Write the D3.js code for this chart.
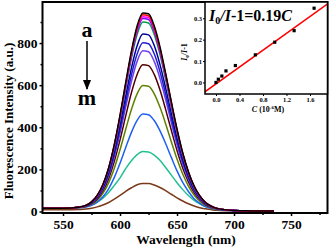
<!DOCTYPE html>
<html>
<head>
<meta charset="utf-8">
<script src="https://cdn.jsdelivr.net/npm/d3@7"></script>
<style>
body { margin: 0; background: #fff; }
svg { display: block; font-family: "Liberation Serif", "Times New Roman", serif; font-weight: bold; }
</style>
</head>
<body>
<svg width="331" height="248"></svg>
<script>
// spectra
var wavelength = [532,550,565,570,575,580,585,590,595,600,605,610,615,620,625,630,635,640,645,650,655,660,665,670,675,680,685,700,715,735];
var curveA = [15,15,22,29,46,77,128,207,319,458,613,762,881,943,939,882,783,657,522,392,279,189,121,74,43,26,15,5,3,2];
var curveB = [15,15,21,29,46,76,127,206,316,453,607,755,872,934,930,873,775,651,517,388,276,187,120,74,43,25,15,5,3,2];
var curveC = [15,15,21,29,45,75,126,204,313,449,601,748,864,925,921,865,768,645,512,384,274,186,119,73,43,25,15,5,3,2];
var curveD = [15,15,21,29,45,75,125,202,310,445,595,741,856,917,912,857,760,639,507,381,271,184,118,72,42,25,15,5,3,2];
var curveE = [15,15,21,28,44,74,123,198,304,437,585,727,840,900,895,841,746,627,498,374,266,181,115,71,41,25,15,5,3,2];
var curveF = [15,15,21,27,42,70,116,187,286,410,548,681,787,843,839,788,699,587,466,350,249,169,108,67,39,23,14,5,3,2];
var curveG = [15,15,21,27,41,67,111,178,272,390,521,648,748,801,797,749,665,558,443,333,237,161,103,64,37,22,14,5,3,2];
var curveH = [15,15,20,26,40,65,106,170,260,372,497,617,713,763,759,713,633,532,422,317,226,154,99,61,36,22,13,5,3,2];
var curveI = [15,15,20,25,38,60,98,156,238,340,454,564,651,697,693,651,578,485,386,290,207,141,90,56,33,20,13,5,3,2];
var curveJ = [15,15,19,24,34,54,86,136,206,293,391,485,559,598,595,559,496,417,331,249,178,121,78,49,29,18,11,5,3,2];
var curveK = [15,15,18,22,30,45,70,108,162,229,304,376,433,463,460,432,384,323,257,193,138,95,61,39,23,15,10,4,3,2];
var curveL = [15,15,20,24,32,45,64,90,124,160,204,241,270,285,283,268,243,209,173,137,104,76,53,37,24,16,12,5,3,2];
var curveM = [8,8,10,12,16,22,31,43,59,77,96,113,127,133,133,126,114,99,82,65,50,37,26,18,13,9,6,3,2,2];
var curves = [curveA,curveB,curveC,curveD,curveE,curveF,curveG,curveH,curveI,curveJ,curveK,curveL,curveM];
var colors = ["#000000","#ff0000","#ff00ff","#7b00ff","#00a050","#000099","#2020d0","#7040f0","#500000","#608000","#2060f0","#20c090","#7a3a1a"];

var xTicks = [550,600,650,700,750];
var yTicks = [0,200,400,600,800];

// inset: Stern-Volmer plot
var concC = [0,0.04,0.1,0.17,0.33,0.67,1.0,1.33,1.67];
var ratio = [0,0.015,0.03,0.054,0.079,0.129,0.188,0.242,0.347];
var fitC = [-0.2,1.9];
var fitR = [-0.046,0.367];
var insetXTicks = [0,0.4,0.8,1.2,1.6];
var insetYTicks = [0,0.1,0.2,0.3];

var svg = d3.select("svg");

var x = d3.scaleLinear().domain([532,782]).range([42.5,327.5]);
var y = d3.scaleLinear().domain([-7,995]).range([213,2]);

var plot = svg.append("g");
plot.append("clipPath").attr("id","clipMain")
    .append("rect").attr("x",42.5).attr("y",2).attr("width",285).attr("height",211);

var line = d3.line()
    .x(function(d,i){ return x(wavelength[i]); })
    .y(function(d){ return y(d); })
    .curve(d3.curveMonotoneX);

plot.append("g").attr("clip-path","url(#clipMain)")
    .selectAll("path")
    .data(curves.slice().reverse())
    .enter().append("path")
    .attr("d", line)
    .attr("fill","none")
    .attr("stroke-width",1.5)
    .attr("stroke", function(d,i){ return colors[curves.length-1-i]; });

// axes
plot.append("g")
    .attr("transform","translate(0,213)")
    .call(d3.axisBottom(x).tickValues(xTicks).tickSize(3).tickPadding(3).tickFormat(d3.format("d")));
plot.append("g")
    .attr("transform","translate(0,213)")
    .call(d3.axisBottom(x).tickValues([575,625,675,725,775]).tickSize(2).tickFormat(""));
plot.append("g")
    .attr("transform","translate(42.5,0)")
    .call(d3.axisLeft(y).tickValues(yTicks).tickSize(3).tickPadding(2));
plot.append("g")
    .attr("transform","translate(42.5,0)")
    .call(d3.axisLeft(y).tickValues([100,300,500,700,900]).tickSize(2).tickFormat(""));

plot.selectAll(".domain").remove();
plot.selectAll(".tick line").attr("stroke","#000").attr("stroke-width",1.5);
plot.selectAll(".tick text").attr("font-family","Liberation Serif").attr("font-weight","bold").attr("font-size",13.5).attr("fill","#000");

plot.append("rect")
    .attr("x",42.5).attr("y",2).attr("width",285).attr("height",211)
    .attr("fill","none").attr("stroke","#000").attr("stroke-width",2);

svg.append("text")
    .attr("x",186).attr("y",244)
    .attr("text-anchor","middle").attr("font-size",13.5)
    .text("Wavelength (nm)");

svg.append("text")
    .attr("transform","translate(13,121) rotate(-90)")
    .attr("text-anchor","middle").attr("font-size",13)
    .text("Fluorescence Intensity (a.u.)");

// a -> m arrow
svg.append("defs").append("marker")
    .attr("id","head").attr("viewBox","0 0 10 10").attr("refX",9).attr("refY",5)
    .attr("markerWidth",7).attr("markerHeight",7).attr("orient","auto")
    .append("path").attr("d","M0,1 L10,5 L0,9 Z").attr("fill","#000");
svg.append("text").attr("x",87).attr("y",37).attr("text-anchor","middle").attr("font-size",22).text("a");
svg.append("line").attr("x1",87).attr("y1",41).attr("x2",87).attr("y2",89)
    .attr("stroke","#000").attr("stroke-width",1.5).attr("marker-end","url(#head)");
svg.append("text").attr("x",87).attr("y",105).attr("text-anchor","middle").attr("font-size",22).text("m");

// inset
var ix = d3.scaleLinear().domain([-0.187,1.898]).range([205,327.5]);
var iy = d3.scaleLinear().domain([-0.054,0.376]).range([94,2]);
var inset = svg.append("g");
inset.append("rect")
    .attr("x",205).attr("y",2).attr("width",122.5).attr("height",92)
    .attr("fill","#fff");
inset.append("clipPath").attr("id","clipInset")
    .append("rect").attr("x",205).attr("y",2).attr("width",122.5).attr("height",92);

inset.append("line")
    .attr("clip-path","url(#clipInset)")
    .attr("x1",ix(fitC[0])).attr("y1",iy(fitR[0]))
    .attr("x2",ix(fitC[1])).attr("y2",iy(fitR[1]))
    .attr("stroke","#ff0000").attr("stroke-width",1.5);

inset.selectAll(".pt")
    .data(ratio)
    .enter().append("rect")
    .attr("class","pt")
    .attr("x", function(d,i){ return ix(concC[i]) - 1.6; })
    .attr("y", function(d){ return iy(d) - 1.6; })
    .attr("width",3.2).attr("height",3.2)
    .attr("fill","#000");

inset.append("g")
    .attr("transform","translate(0,94)")
    .call(d3.axisBottom(ix).tickValues(insetXTicks).tickSize(2).tickPadding(1).tickFormat(d3.format(".1f")));
inset.append("g")
    .attr("transform","translate(205,0)")
    .call(d3.axisLeft(iy).tickValues(insetYTicks).tickSize(2).tickPadding(1).tickFormat(d3.format(".1f")));
inset.selectAll(".domain").remove();
inset.selectAll(".tick line").attr("stroke","#000").attr("stroke-width",1);
inset.selectAll(".tick text").attr("font-family","Liberation Serif").attr("font-weight","bold").attr("font-size",6.5).attr("fill","#000");

inset.append("rect")
    .attr("x",205).attr("y",2).attr("width",122.5).attr("height",92)
    .attr("fill","none").attr("stroke","#000").attr("stroke-width",1.5);

var eq = inset.append("text").attr("x",209).attr("y",21).attr("font-size",16);
eq.append("tspan").attr("font-style","italic").text("I");
eq.append("tspan").attr("font-size",10).attr("dy",3).text("0");
eq.append("tspan").attr("dy",-3).attr("font-style","italic").text("/I");
eq.append("tspan").text("-1=0.19");
eq.append("tspan").attr("font-style","italic").text("C");

var yl = inset.append("text")
    .attr("transform","translate(187,52) rotate(-90)")
    .attr("text-anchor","middle").attr("font-size",8);
yl.append("tspan").attr("font-style","italic").text("I");
yl.append("tspan").attr("font-size",5).attr("dy",2).text("0");
yl.append("tspan").attr("dy",-2).attr("font-style","italic").text("/I");
yl.append("tspan").text("-1");

var xl = inset.append("text")
    .attr("x",268).attr("y",112)
    .attr("text-anchor","middle").attr("font-size",8);
xl.append("tspan").attr("font-style","italic").text("C");
xl.append("tspan").text(" (10");
xl.append("tspan").attr("font-size",5).attr("dy",-3).text("-6");
xl.append("tspan").attr("dy",3).text("M)");
</script>
</body>
</html>
